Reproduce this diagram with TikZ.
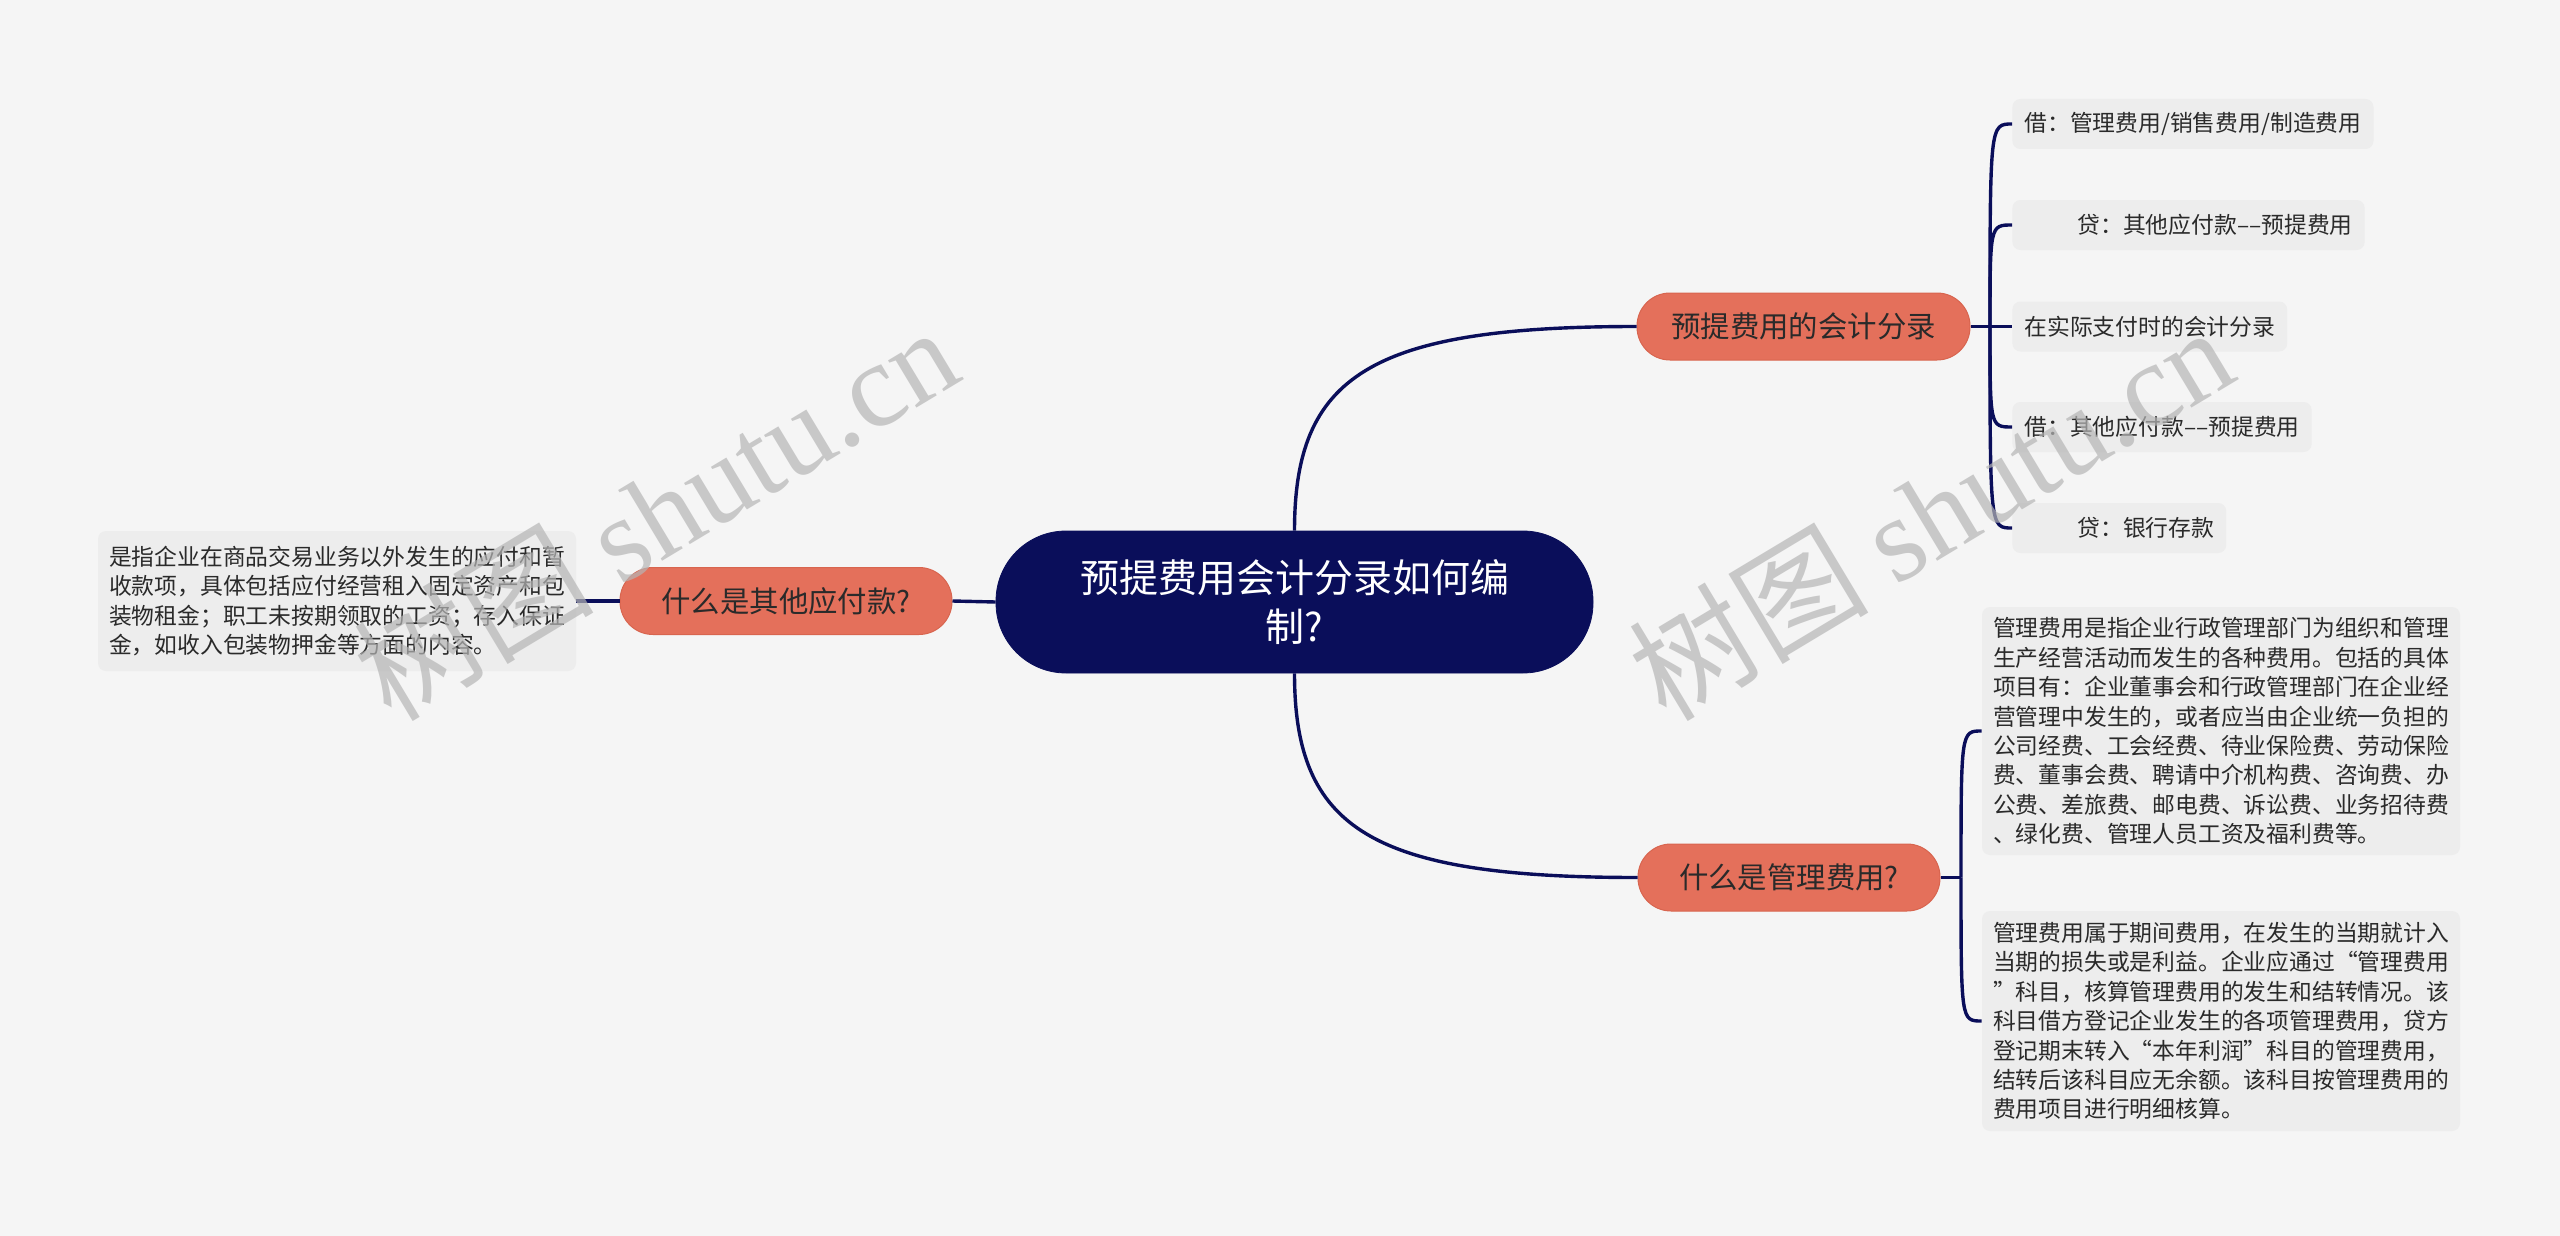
\documentclass[tikz,border=0pt]{standalone}
\usepackage{fontspec}
\setmainfont{Noto Sans CJK SC}
\newfontfamily\wmlatin{Liberation Serif}
\usetikzlibrary{calc}
\definecolor{bgc}{HTML}{F5F5F5}
\definecolor{navy}{HTML}{0A0E5A}
\definecolor{salmon}{HTML}{E4705B}
\definecolor{salmonb}{HTML}{D8654F}
\definecolor{leaff}{HTML}{EDEDED}
\definecolor{txt}{HTML}{2A2A2A}
\definecolor{wmc}{HTML}{B5B5B5}
\begin{document}
\begin{tikzpicture}[x=0.5pt,y=-0.5pt,
  conn/.style={draw=navy, line width=1.7pt},
  centre/.style={fill=navy, draw=navy, rounded corners=35pt, minimum width=298.5pt, minimum height=71pt, text=white, align=center, font=\fontsize{19.5pt}{24.5pt}\selectfont, inner sep=0pt},
  branch/.style={fill=salmon, draw=salmonb, line width=0.5pt, rounded corners=16.5pt, minimum height=33.5pt, text=txt, font=\fontsize{14.7pt}{18pt}\selectfont, inner sep=0pt},
  leaf/.style={fill=leaff, rounded corners=4pt, minimum height=25pt, inner xsep=6pt, text=txt, font=\fontsize{11.4pt}{14.7pt}\selectfont, anchor=west},
  para/.style={fill=leaff, rounded corners=4pt, text width=228pt, inner xsep=5.5pt, text=txt, align=left, font=\fontsize{11.4pt}{14.7pt}\selectfont},
  wm/.style={text=wmc, opacity=0.7, rotate=31, font=\fontsize{60pt}{64pt}\selectfont}
]
\useasboundingbox (0,0) rectangle (2560,1236);
\fill[bgc] (0,0) rectangle (2560,1236);

\node[centre] (c) at (1294.5,602) {预提费用会计分录如何编\\制?};
\node[branch, minimum width=166.5pt] (b1) at (1803.5,326.5) {预提费用的会计分录};
\node[branch, minimum width=151pt] (b2) at (1789,877.5) {什么是管理费用?};
\node[branch, minimum width=166pt] (b3) at (786,601) {什么是其他应付款?};

\node[leaf] (l1) at (2012,124) {借：管理费用/销售费用/制造费用};
\node[leaf] (l2) at (2012,225) {\hspace{26.5pt}贷：其他应付款––预提费用};
\node[leaf] (l3) at (2012,326.5) {在实际支付时的会计分录};
\node[leaf] (l4) at (2012,427) {借：其他应付款––预提费用};
\node[leaf] (l5) at (2012,528) {\hspace{26.5pt}贷：银行存款};

\node[para, minimum height=70pt] (lt) at (337,601) {是指企业在商品交易业务以外发生的应付和暂\\收款项，具体包括应付经营租入固定资产和包\\装物租金；职工未按期领取的工资；存入保证\\金，如收入包装物押金等方面的内容。};
\node[para, minimum height=124pt] (pa) at (2221,731) {管理费用是指企业行政管理部门为组织和管理\\生产经营活动而发生的各种费用。包括的具体\\项目有：企业董事会和行政管理部门在企业经\\营管理中发生的，或者应当由企业统一负担的\\公司经费、工会经费、待业保险费、劳动保险\\费、董事会费、聘请中介机构费、咨询费、办\\公费、差旅费、邮电费、诉讼费、业务招待费\\、绿化费、管理人员工资及福利费等。};
\node[para, minimum height=110pt] (pb) at (2221,1021) {管理费用属于期间费用，在发生的当期就计入\\当期的损失或是利益。企业应通过“管理费用\\”科目，核算管理费用的发生和结转情况。该\\科目借方登记企业发生的各项管理费用，贷方\\登记期末转入“本年利润”科目的管理费用，\\结转后该科目应无余额。该科目按管理费用的\\费用项目进行明细核算。};

\coordinate (s1) at (1990,326.5);
\coordinate (s2) at (1961,877.5);
\draw[conn] (c.north) .. controls +(0,-155) and +(-266,0) .. (b1.west);
\draw[conn] (c.south) .. controls +(0,155) and +(-267,0) .. (b2.west);
\draw[conn] (c.west) -- (b3.east);
\draw[conn] (b3.west) -- (lt.east);
\draw[conn] (b1.east) -- (l3.west);
\foreach \n in {l1,l2,l4,l5} \draw[conn] (s1) .. controls (s1 |- \n.west) .. (\n.west);
\draw[conn] (b2.east) -- (s2);
\foreach \n in {pa,pb} \draw[conn] (s2) .. controls (s2 |- \n.west) .. (\n.west);

\node[wm] (w1) at (655,512) {树图 {\wmlatin shutu.cn}};
\node[wm] (w2) at (1930,512) {树图 {\wmlatin shutu.cn}};
\end{tikzpicture}
\end{document}
